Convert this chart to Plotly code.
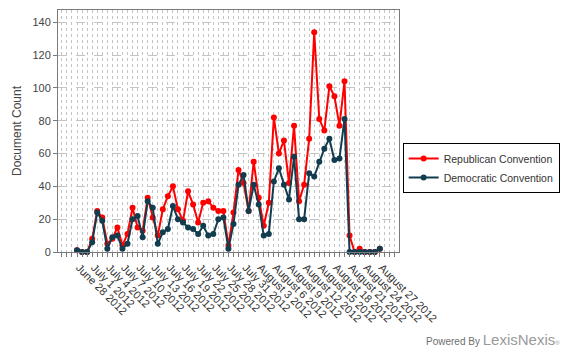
import pandas as pd
import plotly.graph_objects as go

# Daily document counts, June 28 - August 27 2012
dates = pd.date_range("2012-06-28", "2012-08-27", freq="D")
label_dates = dates[::3]

republican = [
    1, 0, 0, 8, 25, 21, 5, 8, 15, 4,
    11, 27, 15, 13, 33, 21, 10, 26, 34, 40,
    26, 19, 37, 29, 18, 30, 31, 27, 25, 25,
    4, 24, 50, 42, 25, 55, 33, 16, 30, 82,
    60, 68, 42, 77, 31, 41, 69, 134, 81, 74,
    101, 95, 77, 104, 10, 0, 2, 0, 0, 0,
    2,
]
democratic = [
    1, 0, 0, 6, 24, 19, 2, 9, 10, 2,
    5, 20, 22, 9, 31, 27, 5, 12, 14, 28,
    20, 18, 15, 14, 11, 16, 10, 11, 20, 21,
    2, 17, 41, 47, 25, 41, 29, 10, 11, 43,
    51, 41, 32, 58, 20, 20, 48, 46, 55, 63,
    69, 56, 57, 81, 0, 0, 0, 0, 0, 0,
    2,
]

RED = "#FF0000"
NAVY = "#113D4F"
GRID = "#C4C4C4"
AXIS = "#7A7A7A"
FONT = "Liberation Sans, Arial, sans-serif"

fig = go.Figure()
fig.add_trace(go.Scatter(
    x=dates, y=republican, name="Republican Convention",
    mode="lines+markers", cliponaxis=False,
    line=dict(color=RED, width=2),
    marker=dict(color=RED, size=6),
))
fig.add_trace(go.Scatter(
    x=dates, y=democratic, name="Democratic Convention",
    mode="lines+markers", cliponaxis=False,
    line=dict(color=NAVY, width=2),
    marker=dict(color=NAVY, size=6),
))

fig.update_layout(
    width=570, height=350,
    margin=dict(l=58, r=166, t=10, b=98),
    paper_bgcolor="white", plot_bgcolor="white",
    font=dict(family=FONT, size=11, color="#444444"),
    showlegend=True,
    legend=dict(
        x=(567 - 58) / 346, y=0.45, xanchor="right", yanchor="top",
        bordercolor="#000000", borderwidth=1, bgcolor="white",
        font=dict(family=FONT, size=10.5, color="#333333"),
        itemwidth=30, tracegroupgap=0,
    ),
    xaxis=dict(
        type="date",
        range=["2012-06-24 05:30", "2012-08-30 19:10"],
        tickvals=label_dates,
        tickformat="%B %-d %Y", tickangle=45,
        ticks="outside", ticklen=4, tickcolor=AXIS,
        ticklabelshift=2,
        showgrid=True, gridcolor=GRID, griddash="dot", gridwidth=1,
        minor=dict(
            dtick=86400000, tick0="2012-06-28",
            ticks="outside", ticklen=4, tickcolor=AXIS,
            showgrid=True, gridcolor=GRID, griddash="dot", gridwidth=1,
        ),
        showline=True, linecolor=AXIS, linewidth=1, mirror=True,
        zeroline=False,
        tickfont=dict(family=FONT, size=11, color="#333333"),
    ),
    yaxis=dict(
        range=[0, 147.5], tick0=0, dtick=20,
        ticks="outside", ticklen=4, tickcolor=AXIS,
        showgrid=True, gridcolor=GRID, griddash="dash", gridwidth=1,
        showline=True, linecolor=AXIS, linewidth=1, mirror=True,
        zeroline=False,
        title=dict(text="Document Count", font=dict(family=FONT, size=12, color="#444444"), standoff=8),
        tickfont=dict(family=FONT, size=11, color="#444444"),
    ),
)

fig.add_annotation(
    xref="paper", yref="paper", x=(569 - 58) / 346, y=-0.36,
    xanchor="right", yanchor="middle", showarrow=False,
    text="<span style='font-size:10px;color:#6E6E6E'>Powered By </span>"
         "<span style='font-size:15px;color:#9A9A9A'>LexisNexis</span>"
         "<span style='font-size:6px;color:#9A9A9A'>®</span>",
    font=dict(family=FONT),
)

fig.write_html("out.html")
